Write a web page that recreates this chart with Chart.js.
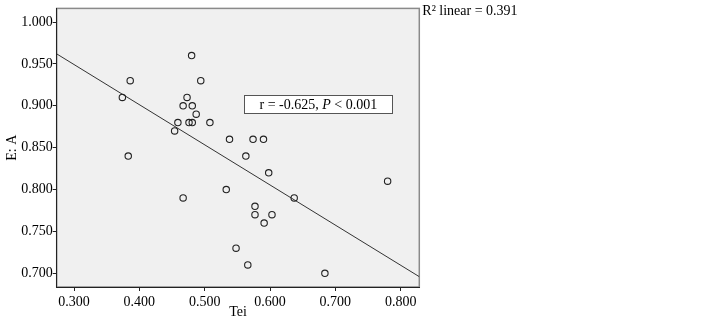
<!DOCTYPE html>
<html>
<head>
<meta charset="utf-8">
<script src="https://cdn.jsdelivr.net/npm/chart.js@4"></script>
<style>
  html, body { margin: 0; padding: 0; background: #fff; }
  #wrap { width: 722px; height: 319px; }
</style>
</head>
<body>
<div id="wrap"><canvas id="c" width="722" height="319"></canvas></div>
<script>
// Tei vs E:A
const teiValues = [0.480, 0.386, 0.494, 0.374, 0.473, 0.467, 0.481, 0.487, 0.459, 0.476,
                   0.481, 0.508, 0.454, 0.538, 0.574, 0.590, 0.383, 0.563, 0.598, 0.533,
                   0.780, 0.467, 0.637, 0.577, 0.577, 0.603, 0.591, 0.548, 0.566, 0.684];
const eaValues  = [0.960, 0.930, 0.930, 0.910, 0.910, 0.900, 0.900, 0.890, 0.880, 0.880,
                   0.880, 0.880, 0.870, 0.860, 0.860, 0.860, 0.840, 0.840, 0.820, 0.800,
                   0.810, 0.790, 0.790, 0.780, 0.770, 0.770, 0.760, 0.730, 0.710, 0.700];

// fit line ends (at the plot edges)
const fitX = [0.2735, 0.8285];
const fitY = [0.962, 0.696];

const xTicks = [0.3, 0.4, 0.5, 0.6, 0.7, 0.8];
const yTicks = [0.70, 0.75, 0.80, 0.85, 0.90, 0.95, 1.00];

const statLabel = ["r = -0.625, ", "P", " < 0.001"];
const statAt = [0.674, 0.902];
const r2Label = "R\u00B2 linear = 0.391";

const serif = "'Liberation Serif', 'Times New Roman', serif";

const plotBg = {
  id: "plotBg",
  beforeDraw(chart) {
    const { ctx, chartArea: a } = chart;
    ctx.save();
    ctx.fillStyle = "#f0f0f0";
    ctx.fillRect(a.left, a.top, a.right - a.left, a.bottom - a.top);
    ctx.strokeStyle = "#8a8a8a";
    ctx.lineWidth = 1.5;
    ctx.strokeRect(a.left, a.top, a.right - a.left, a.bottom - a.top);
    ctx.restore();
  },
  afterDraw(chart) {
    const { ctx, chartArea: a, scales: { x, y } } = chart;
    ctx.save();
    // stat box
    const cx = x.getPixelForValue(statAt[0]);
    const cy = y.getPixelForValue(statAt[1]);
    const w = 148, h = 18;
    ctx.fillStyle = "#fff";
    ctx.fillRect(cx - w / 2, cy - h / 2, w, h);
    ctx.strokeStyle = "#555";
    ctx.lineWidth = 1;
    ctx.strokeRect(Math.round(cx - w / 2) + 0.5, Math.round(cy - h / 2) + 0.5, w, h);
    const fonts = ["14px " + serif, "italic 14px " + serif, "14px " + serif];
    let total = 0;
    statLabel.forEach((s, i) => { ctx.font = fonts[i]; total += ctx.measureText(s).width; });
    let tx = cx - total / 2;
    ctx.fillStyle = "#000";
    ctx.textBaseline = "middle";
    statLabel.forEach((s, i) => {
      ctx.font = fonts[i];
      ctx.fillText(s, tx, cy + 1);
      tx += ctx.measureText(s).width;
    });
    // R2 note
    ctx.font = "14px " + serif;
    ctx.textBaseline = "middle";
    ctx.fillText(r2Label, a.right + 3, 11);
    ctx.restore();
  }
};

new Chart(document.getElementById("c"), {
  type: "scatter",
  data: {
    datasets: [
      {
        data: teiValues.map((v, i) => ({ x: v, y: eaValues[i] })),
        pointStyle: "circle",
        pointRadius: 3.2,
        pointBorderWidth: 1.1,
        pointBorderColor: "#222",
        pointBackgroundColor: "rgba(0,0,0,0)",
        showLine: false
      },
      {
        data: fitX.map((v, i) => ({ x: v, y: fitY[i] })),
        showLine: true,
        borderColor: "#333",
        borderWidth: 1,
        pointRadius: 0
      }
    ]
  },
  options: {
    responsive: false,
    animation: false,
    layout: { padding: { left: 0, right: 302.7, top: 2, bottom: 0 } },
    plugins: { legend: { display: false }, tooltip: { enabled: false } },
    scales: {
      x: {
        type: "linear",
        min: 0.2735,
        max: 0.8285,
        afterBuildTicks: s => { s.ticks = xTicks.map(v => ({ value: v })); },
        afterFit: s => { s.height = 32; },
        grid: { drawOnChartArea: false, drawTicks: true, tickLength: 4, color: "#222" },
        border: { display: true, color: "#222", width: 1 },
        ticks: { padding: 3, color: "#000", font: { family: serif, size: 14 }, callback: v => v.toFixed(3), maxRotation: 0 },
        title: { display: true, text: "Tei", color: "#000", font: { family: serif, size: 14, lineHeight: 0.9 }, padding: { top: 0, bottom: 0 } }
      },
      y: {
        type: "linear",
        min: 0.6837,
        max: 1.0163,
        afterBuildTicks: s => { s.ticks = yTicks.map(v => ({ value: v })); },
        afterFit: s => { s.width = 56.7; },
        grid: { drawOnChartArea: false, drawTicks: true, tickLength: 4, color: "#222" },
        border: { display: true, color: "#222", width: 1 },
        ticks: { padding: 0, color: "#000", font: { family: serif, size: 14 }, callback: v => v.toFixed(3) },
        title: { display: true, text: "E: A", color: "#000", font: { family: serif, size: 14 }, padding: { top: 4, bottom: 0 } }
      }
    }
  },
  plugins: [plotBg]
});
</script>
</body>
</html>
